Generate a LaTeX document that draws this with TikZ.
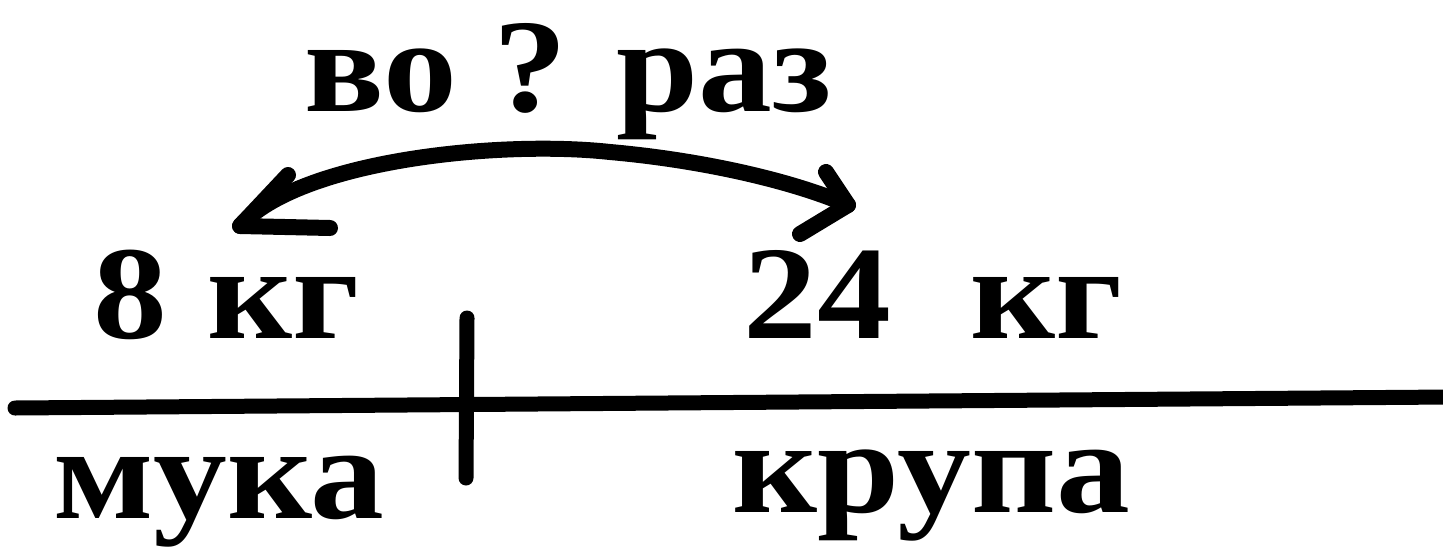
\documentclass[tikz,border=0pt]{standalone}
\usepackage{fontspec}
\setmainfont{Liberation Serif}[FakeStretch=1.11]
\begin{document}
\begin{tikzpicture}[x=0.5pt,y=-0.5pt,
  lbl/.style={inner sep=0pt, anchor=base west, font=\bfseries\fontsize{66.5}{80}\selectfont},
  thickline/.style={line width=7.5pt, line cap=round, line join=round},
  arrowline/.style={line width=8pt, line cap=round, line join=round}]
\useasboundingbox[fill=white] (0,0) rectangle (1443,546);
% axis
\coordinate (axL) at (15,408);
\coordinate (axR) at (1450,397);
\coordinate (tkT) at (467,318);
\coordinate (tkB) at (466,478);
\draw[thickline] (axL) -- (axR);
\draw[thickline] (tkT) -- (tkB);
% labels
\node[lbl] (m8) at (93,338) {8\hspace{0.3em}кг};
\node[lbl] (m24) at (743,338) {24\hspace{0.6em}кг};
\node[lbl] (muka) at (53,518) {мука};
\node[lbl] (krupa) at (732,512) {крупа};
\node[lbl] (times) at (304,111) {во ? раз};
% double arrow
\coordinate (tipL) at (240,226);
\coordinate (tipR) at (848,205);
\draw[arrowline] (tipL) .. controls (300,160) and (500,140) .. (610,152)
  .. controls (700,160) and (790,180) .. (tipR);
\draw[arrowline] (288,175) -- (tipL) -- (330,228);
\draw[arrowline] (826,172) -- (tipR) -- (800,234);
\end{tikzpicture}
\end{document}
